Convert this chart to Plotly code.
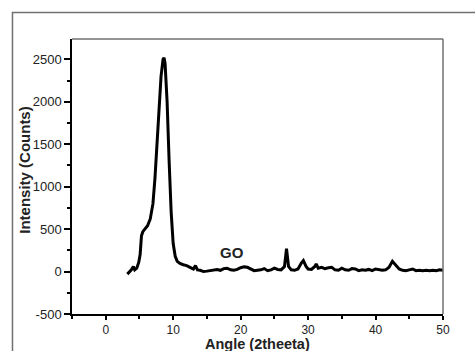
import plotly.graph_objects as go

angle = [3.2, 3.5, 3.8, 4.1, 4.3, 4.6, 4.9, 5.1, 5.3, 5.5, 5.8, 6.2, 6.6, 7.0, 7.3, 7.6, 7.9, 8.2, 8.5, 8.65,
         8.8, 9.1, 9.4, 9.7, 10.0, 10.3, 10.6, 11.0, 11.5, 12.0, 12.5, 13.0, 13.3, 13.6, 14.0, 14.5, 15.0, 15.5,
         16.0, 16.5, 17.0, 17.5, 18.0, 18.5, 19.0, 19.5, 20.0, 20.5, 21.0, 21.5, 22.0, 22.5, 23.0, 23.5, 24.0,
         24.5, 25.0, 25.5, 26.0, 26.5, 26.8, 27.1, 27.5, 28.0, 28.5, 29.0, 29.3, 29.7, 30.0, 30.5, 31.0, 31.2,
         31.5, 32.0, 32.5, 33.0, 33.5, 34.0, 34.5, 35.0, 35.5, 36.0, 36.5, 37.0, 37.5, 38.0, 38.5, 39.0, 39.5,
         40.0, 40.5, 41.0, 41.5, 42.0, 42.5, 43.0, 43.5, 44.0, 44.5, 45.0, 45.5, 46.0, 46.5, 47.0, 47.5, 48.0,
         48.5, 49.0, 49.5, 50.0]
intensity = [-30, -10, 20, 60, 20, 40, 110, 200, 420, 470, 500, 540, 620, 800, 1100, 1500, 1950, 2300, 2500, 2520,
             2450, 2000, 1300, 700, 330, 180, 120, 95, 80, 70, 50, 30, 70, 20, 15, 0, 5, 10,
             15, 25, 15, 35, 40, 20, 15, 25, 45, 55, 50, 25, 10, 15, 20, 35, 10,
             20, 40, 25, 20, 60, 270, 60, 20, 15, 30, 100, 130, 60, 30, 25, 60, 90,
             40, 50, 35, 45, 50, 20, 15, 40, 20, 15, 35, 30, 10, 20, 15, 25, 10,
             30, 20, 15, 20, 50, 120, 70, 30, 15, 10, 20, 30, 10, 15, 10, 15, 10,
             15, 10, 20, 15]

x_ticks = [0, 10, 20, 30, 40, 50]
y_ticks = [-500, 0, 500, 1000, 1500, 2000, 2500]

FONT = "Arial, Liberation Sans, sans-serif"

fig = go.Figure()
fig.add_trace(go.Scatter(x=angle, y=intensity, mode="lines",
                         line=dict(color="black", width=3), showlegend=False))

fig.update_layout(
    width=475, height=351,
    margin=dict(l=72, r=32, t=39, b=37),
    paper_bgcolor="white", plot_bgcolor="white",
    font=dict(family=FONT, color="#222"),
    xaxis=dict(range=[-5, 50], tickvals=x_ticks, ticktext=[str(v) for v in x_ticks],
               showline=True, linecolor="black", linewidth=1.5, ticks="outside", ticklen=4,
               tickcolor="black", tickwidth=1.5, showgrid=False, zeroline=False,
               tickfont=dict(size=12, family=FONT, color="#222"),
               minor=dict(dtick=5, tick0=0, ticks="outside", ticklen=3, tickcolor="black", tickwidth=1.5)),
    yaxis=dict(range=[-500, 2740], tickvals=y_ticks, ticktext=[str(v) for v in y_ticks],
               showline=True, linecolor="black", linewidth=1.5, ticks="outside", ticklen=6,
               tickcolor="black", tickwidth=1.5, showgrid=False, zeroline=False,
               tickfont=dict(size=13, family=FONT, color="#222"),
               minor=dict(dtick=250, tick0=0, ticks="outside", ticklen=3, tickcolor="black", tickwidth=1.5)),
    shapes=[
        dict(type="line", xref="paper", yref="paper", x0=0, x1=1, y0=1, y1=1,
             line=dict(color="#707070", width=1.5)),
        dict(type="line", xref="paper", yref="paper", x0=1, x1=1, y0=0, y1=1,
             line=dict(color="#707070", width=1.5)),
        dict(type="rect", xref="paper", yref="paper", x0=-0.1604, x1=1.3, y0=-0.4, y1=1.0964,
             line=dict(color="#707070", width=1.5), layer="below"),
    ],
    annotations=[
        dict(text="<b>Angle (2theeta)</b>", xref="paper", yref="paper", x=0.5, y=-0.108,
             xanchor="center", yanchor="middle", showarrow=False,
             font=dict(size=14.5, family=FONT, color="#222")),
        dict(text="<b>Intensity (Counts)</b>", xref="paper", yref="paper", x=-0.127, y=0.524,
             xanchor="center", yanchor="middle", showarrow=False, textangle=-90,
             font=dict(size=15, family=FONT, color="#222")),
        dict(text="<b>GO</b>", xref="x", yref="y", x=18.7, y=220,
             xanchor="center", yanchor="middle", showarrow=False,
             font=dict(size=15, family=FONT, color="#222")),
    ],
)

fig.write_html("out.html")
